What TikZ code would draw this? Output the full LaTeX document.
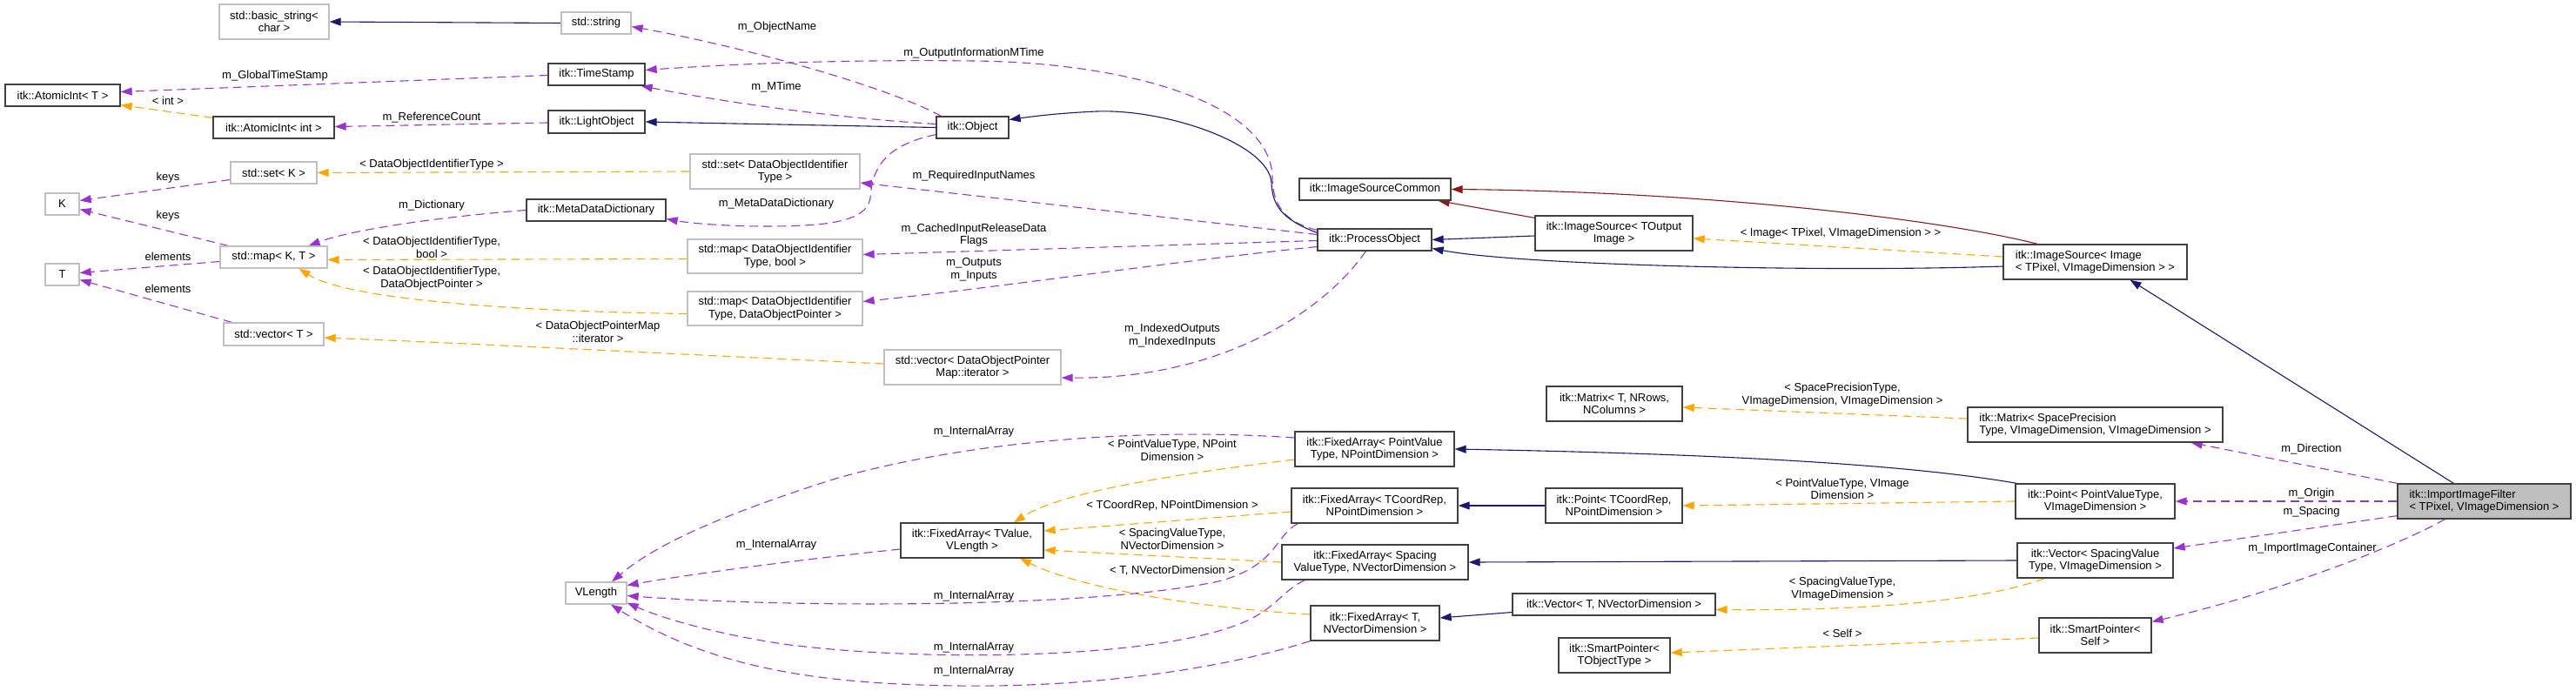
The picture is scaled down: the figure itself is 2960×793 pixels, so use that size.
\documentclass[tikz,border=0pt]{standalone}
\usepackage{fontspec}
\setmainfont{Liberation Sans}
\usetikzlibrary{arrows.meta,calc,backgrounds}
\definecolor{navyc}{HTML}{191970}
\definecolor{purc}{HTML}{9A32CD}
\definecolor{orc}{HTML}{FFA500}
\definecolor{redc}{HTML}{8B1A1A}
\definecolor{gbord}{HTML}{BFBFBF}
\definecolor{bbord}{HTML}{404040}
\definecolor{hfill}{HTML}{BFBFBF}
\newcommand{\diafont}{\fontsize{13}{14.5}\selectfont}
\begin{document}
\begin{tikzpicture}[x=1pt,y=-1pt,
  box/.style={draw=bbord,line width=1.3pt,fill=white,inner sep=0pt,align=center,font=\diafont},
  gbox/.style={box,draw=gbord},
  lbl/.style={inner sep=0pt,align=center,font=\diafont},
  arrtip/.style={-{Triangle[length=13pt,width=9pt]}},
  inhedge/.style={draw=navyc,line width=1.1pt,arrtip},
  inhredge/.style={draw=redc,line width=1.1pt,arrtip},
  usedge/.style={draw=purc,line width=1.1pt,dash pattern=on 10pt off 6pt,arrtip},
  tmpledge/.style={draw=orc,line width=1.1pt,dash pattern=on 10pt off 6pt,arrtip}]
\useasboundingbox (0,0) rectangle (2960,793);

% ---------- nodes ----------
\node[gbox,minimum width=126pt,minimum height=40pt] (bstr) at (315,25) {std::basic\_string<\\char >};
\node[gbox,minimum width=80pt,minimum height=25pt] (str) at (685,26.5) {std::string};
\node[box,minimum width=111pt,minimum height=25pt] (ts) at (685.5,85.5) {itk::TimeStamp};
\node[box,minimum width=111pt,minimum height=26pt] (lo) at (685.5,140) {itk::LightObject};
\node[box,minimum width=132pt,minimum height=25pt] (ait) at (72,109.5) {itk::AtomicInt< T >};
\node[box,minimum width=139pt,minimum height=25pt] (aii) at (314.5,146.5) {itk::AtomicInt< int >};
\node[gbox,minimum width=99pt,minimum height=25pt] (setk) at (314.5,198.5) {std::set< K >};
\node[gbox,minimum width=39pt,minimum height=25pt] (K) at (71.5,234.5) {K};
\node[gbox,minimum width=123pt,minimum height=25pt] (mapkt) at (314.5,295.5) {std::map< K, T >};
\node[gbox,minimum width=39pt,minimum height=25pt] (T) at (71.5,315.5) {T};
\node[gbox,minimum width=115pt,minimum height=26pt] (vect) at (314.5,384) {std::vector< T >};
\node[box,minimum width=160pt,minimum height=25pt] (mdd) at (685,241.5) {itk::MetaDataDictionary};
\node[gbox,minimum width=195pt,minimum height=40pt] (setdoi) at (890.5,197) {std::set< DataObjectIdentifier\\Type >};
\node[gbox,minimum width=201pt,minimum height=39pt] (mapbool) at (890.5,294.5) {std::map< DataObjectIdentifier\\Type, bool >};
\node[gbox,minimum width=201pt,minimum height=39pt] (mapdop) at (890.5,354.5) {std::map< DataObjectIdentifier\\Type, DataObjectPointer >};
\node[box,minimum width=83pt,minimum height=25pt] (obj) at (1117.5,146.5) {itk::Object};
\node[gbox,minimum width=203pt,minimum height=40pt] (vecit) at (1117.5,422) {std::vector< DataObjectPointer\\Map::iterator >};
\node[box,minimum width=131pt,minimum height=25pt] (po) at (1579.5,275.5) {itk::ProcessObject};
\node[box,minimum width=174pt,minimum height=25pt] (isc) at (1580,217.5) {itk::ImageSourceCommon};
\node[box,minimum width=181pt,minimum height=40pt] (isto) at (1854.5,268) {itk::ImageSource< TOutput\\Image >};
\node[box,align=left,minimum width=211pt,minimum height=40pt] (isimg) at (2407.5,301) {itk::ImageSource< Image\\< TPixel, VImageDimension > >};
\node[box,fill=hfill,align=left,minimum width=199pt,minimum height=40pt] (iif) at (2854.5,576) {itk::ImportImageFilter\\< TPixel, VImageDimension >};
\node[box,minimum width=156pt,minimum height=40pt] (mtx) at (1855,464) {itk::Matrix< T, NRows,\\NColumns >};
\node[box,align=left,minimum width=293pt,minimum height=40pt] (mtxs) at (2407.5,488) {itk::Matrix< SpacePrecision\\Type, VImageDimension, VImageDimension >};
\node[box,minimum width=183pt,minimum height=40pt] (fapv) at (1579.5,516) {itk::FixedArray< PointValue\\Type, NPointDimension >};
\node[box,minimum width=191pt,minimum height=40pt] (fatc) at (1579.5,581) {itk::FixedArray< TCoordRep,\\NPointDimension >};
\node[box,minimum width=157pt,minimum height=40pt] (ptc) at (1854.5,581) {itk::Point< TCoordRep,\\NPointDimension >};
\node[box,minimum width=183pt,minimum height=40pt] (ptv) at (2407.5,576) {itk::Point< PointValueType,\\VImageDimension >};
\node[box,minimum width=214pt,minimum height=40pt] (fasv) at (1580,646) {itk::FixedArray< Spacing\\ValueType, NVectorDimension >};
\node[box,minimum width=179pt,minimum height=40pt] (vsv) at (2407.5,644) {itk::Vector< SpacingValue\\Type, VImageDimension >};
\node[box,minimum width=164pt,minimum height=40pt] (fatv) at (1117,621) {itk::FixedArray< TValue,\\VLength >};
\node[gbox,minimum width=70pt,minimum height=25pt] (vlen) at (685,681.5) {VLength};
\node[box,minimum width=148pt,minimum height=40pt] (fat) at (1580,716) {itk::FixedArray< T,\\NVectorDimension >};
\node[box,minimum width=233pt,minimum height=25pt] (vt) at (1854.5,694.5) {itk::Vector< T, NVectorDimension >};
\node[box,minimum width=128pt,minimum height=40pt] (spto) at (1855,753) {itk::SmartPointer<\\TObjectType >};
\node[box,minimum width=129pt,minimum height=40pt] (sps) at (2407.5,730) {itk::SmartPointer<\\Self >};

% ---------- labels ----------
\node[lbl] (l1) at (893,31) {m\_ObjectName};
\node[lbl] (l2) at (892,100) {m\_MTime};
\node[lbl] (l3) at (1119,61) {m\_OutputInformationMTime};
\node[lbl] (l4) at (316,87) {m\_GlobalTimeStamp};
\node[lbl] (l5) at (193,116) {< int >};
\node[lbl] (l6) at (496,135) {m\_ReferenceCount};
\node[lbl] (l7) at (496,189) {< DataObjectIdentifierType >};
\node[lbl] (l8) at (193,204) {keys};
\node[lbl] (l9) at (193,248) {keys};
\node[lbl] (l10) at (496,236) {m\_Dictionary};
\node[lbl] (l11) at (892,234) {m\_MetaDataDictionary};
\node[lbl] (l12) at (1119,202) {m\_RequiredInputNames};
\node[lbl] (l13) at (496,284.5) {< DataObjectIdentifierType,\\bool >};
\node[lbl] (l14) at (496,319.5) {< DataObjectIdentifierType,\\DataObjectPointer >};
\node[lbl] (l15) at (193,295) {elements};
\node[lbl] (l16) at (193,332) {elements};
\node[lbl] (l17) at (1119,270) {m\_CachedInputReleaseData\\Flags};
\node[lbl] (l18) at (1119,310) {m\_Outputs\\m\_Inputs};
\node[lbl] (l19) at (687,381.5) {< DataObjectPointerMap\\::iterator >};
\node[lbl] (l20) at (1347,385.5) {m\_IndexedOutputs\\m\_IndexedInputs};
\node[lbl] (l21) at (2115,268) {< Image< TPixel, VImageDimension > >};
\node[lbl] (l22) at (892,626) {m\_InternalArray};
\node[lbl] (l23) at (1119,496) {m\_InternalArray};
\node[lbl] (l24) at (1119,685) {m\_InternalArray};
\node[lbl] (l25) at (1119,744) {m\_InternalArray};
\node[lbl] (l26) at (1119,771) {m\_InternalArray};
\node[lbl] (l27) at (1347,517.5) {< PointValueType, NPoint\\Dimension >};
\node[lbl] (l28) at (1347,581) {< TCoordRep, NPointDimension >};
\node[lbl] (l29) at (1347,619.5) {< SpacingValueType,\\NVectorDimension >};
\node[lbl] (l30) at (1347,656) {< T, NVectorDimension >};
\node[lbl] (l31) at (2117,453.5) {< SpacePrecisionType,\\VImageDimension, VImageDimension >};
\node[lbl] (l32) at (2117,562) {< PointValueType, VImage\\Dimension >};
\node[lbl] (l33) at (2117,676.5) {< SpacingValueType,\\VImageDimension >};
\node[lbl] (l34) at (2117,728) {< Self >};
\node[lbl] (l35) at (2656,516) {m\_Direction};
\node[lbl] (l36) at (2656,567) {m\_Origin};
\node[lbl] (l37) at (2656,588) {m\_Spacing};
\node[lbl] (l38) at (2657,630) {m\_ImportImageContainer};

% ---------- edges ----------
\begin{pgfonlayer}{background}
\fill[white] (0,0) rectangle (2960,793);
\draw[inhedge] (str.west) -- (bstr.east);
\draw[usedge] ($(obj.north west)+(6,0)$) .. controls (1020,100) and (860,55) .. ($(str.east)+(0,4)$);
\draw[usedge] ($(obj.west)+(0,-4)$) .. controls (950,135) and (820,115) .. ($(ts.south east)+(-5,0)$);
\draw[usedge] ($(po.north west)+(0,2)$) .. controls (1475,255) and (1463,235) .. (1462,205) .. controls (1462,120) and (1300,72) .. (1119,70) .. controls (950,68) and (820,75) .. ($(ts.east)+(0,-5)$);
\draw[inhedge] ($(po.north west)+(0,5)$) .. controls (1472,252) and (1462,235) .. (1461,210) .. controls (1458,165) and (1340,125) .. (1260,128) .. controls (1215,130) and (1185,134) .. ($(obj.east)+(0,-9)$);
\draw[usedge] ($(ts.west)+(0,1)$) -- ($(ait.east)+(0,-4)$);
\draw[tmpledge] ($(aii.north west)+(0,2)$) -- ($(ait.south east)+(0,-2)$);
\draw[usedge] ($(lo.west)+(0,1)$) -- ($(aii.east)+(0,-1)$);
\draw[inhedge] (obj.west) -- (lo.east);
\draw[tmpledge] (setdoi.west) -- (setk.east);
\draw[usedge] ($(setk.west)+(0,8)$) -- ($(K.east)+(0,-4)$);
\draw[usedge] ($(mapkt.north west)+(10,0)$) -- ($(K.east)+(0,6)$);
\draw[usedge] ($(mapkt.west)+(0,5)$) -- ($(T.east)+(0,-2)$);
\draw[usedge] ($(vect.north west)+(10,0)$) -- ($(T.east)+(0,6)$);
\draw[usedge] (mdd.west) .. controls (520,248) and (410,262) .. ($(mapkt.north east)+(-22,0)$);
\draw[tmpledge] ($(mapbool.west)+(0,3)$) -- ($(mapkt.east)+(0,3)$);
\draw[tmpledge] ($(mapdop.west)+(0,6)$) .. controls (600,358) and (400,345) .. ($(mapkt.south east)+(-33,0)$);
\draw[tmpledge] ($(vecit.west)+(0,-4)$) .. controls (800,408) and (550,395) .. ($(vect.east)+(0,4)$);
\draw[usedge] ($(obj.south west)+(0,-5)$) .. controls (1010,168) and (1002,200) .. (1000,228) .. controls (995,255) and (950,260) .. (880,260) .. controls (830,260) and (790,256) .. ($(mdd.east)+(0,10)$);
\draw[usedge] ($(po.west)+(0,-6)$) -- ($(setdoi.east)+(0,13)$);
\draw[usedge] ($(po.west)+(0,1)$) -- ($(mapbool.east)+(0,-2)$);
\draw[usedge] ($(po.west)+(0,8)$) .. controls (1350,300) and (1150,330) .. ($(mapdop.east)+(0,-8)$);
\draw[usedge] ($(po.south west)+(56,0)$) .. controls (1520,360) and (1400,436) .. ($(vecit.east)+(0,12)$);
\draw[inhredge] ($(isto.north west)+(0,3)$) -- ($(isc.south east)+(-15,0)$);
\draw[inhedge] ($(isto.west)+(0,3)$) -- (po.east);
\draw[inhredge] ($(isimg.north west)+(40,0)$) .. controls (2220,250) and (1950,220) .. (isc.east);
\draw[tmpledge] ($(isimg.west)+(0,-6)$) -- ($(isto.east)+(0,6)$);
\draw[inhedge] ($(isimg.west)+(0,5)$) .. controls (2100,313) and (1750,305) .. ($(po.east)+(0,10)$);
\draw[inhedge] ($(iif.north west)+(65,0)$) -- ($(isimg.south)+(40,0)$);
\draw[usedge] (iif.north west) -- ($(mtxs.south east)+(-37,0)$);
\draw[usedge] (iif.west) -- (ptv.east);
\draw[usedge] ($(iif.south west)+(0,-4)$) -- ($(vsv.east)+(0,-14)$);
\draw[usedge] ($(iif.south west)+(55,0)$) .. controls (2740,635) and (2600,685) .. ($(sps.north east)+(0,5)$);
\draw[tmpledge] ($(mtxs.west)+(0,-7)$) -- ($(mtx.east)+(0,4)$);
\draw[inhedge] ($(ptv.north west)+(2,0)$) .. controls (2200,535) and (2000,522) .. (fapv.east);
\draw[tmpledge] (ptv.west) -- (ptc.east);
\draw[inhedge] (vsv.west) -- (fasv.east);
\draw[tmpledge] ($(vsv.south west)+(32,0)$) .. controls (2280,690) and (2150,702) .. ($(vt.east)+(0,6)$);
\draw[tmpledge] ($(sps.west)+(0,3)$) -- ($(spto.east)+(0,-3)$);
\draw[inhedge] (ptc.west) -- (fatc.east);
\draw[inhedge] ($(vt.west)+(0,9)$) -- ($(fat.east)+(0,-6)$);
\draw[tmpledge] ($(fapv.west)+(0,12)$) .. controls (1350,545) and (1220,565) .. ($(fatv.north)+(48,0)$);
\draw[tmpledge] ($(fatc.west)+(0,7)$) -- ($(fatv.east)+(0,-11)$);
\draw[tmpledge] (fasv.west) -- ($(fatv.east)+(0,11)$);
\draw[tmpledge] ($(fat.west)+(0,-10)$) .. controls (1400,700) and (1250,680) .. ($(fatv.south)+(55,0)$);
\draw[usedge] ($(fatv.west)+(0,10)$) .. controls (900,645) and (780,662) .. ($(vlen.east)+(0,-9)$);
\draw[usedge] ($(fapv.west)+(0,-13)$) .. controls (1300,490) and (1100,510) .. (960,550) .. controls (850,585) and (760,620) .. ($(vlen.north)+(18,0)$);
\draw[usedge] ($(fatc.south west)+(8,0)$) .. controls (1465,615) and (1468,650) .. (1400,668) .. controls (1250,700) and (900,698) .. ($(vlen.east)+(0,3)$);
\draw[usedge] ($(fasv.south west)+(27,0)$) .. controls (1470,680) and (1465,705) .. (1410,722) .. controls (1300,758) and (1050,760) .. (900,740) .. controls (820,728) and (760,710) .. ($(vlen.south east)+(0,-2)$);
\draw[usedge] (fat.south west) .. controls (1400,770) and (1250,790) .. (1100,788) .. controls (950,786) and (820,770) .. ($(vlen.south)+(17,0)$);
\end{pgfonlayer}
\end{tikzpicture}
\end{document}
